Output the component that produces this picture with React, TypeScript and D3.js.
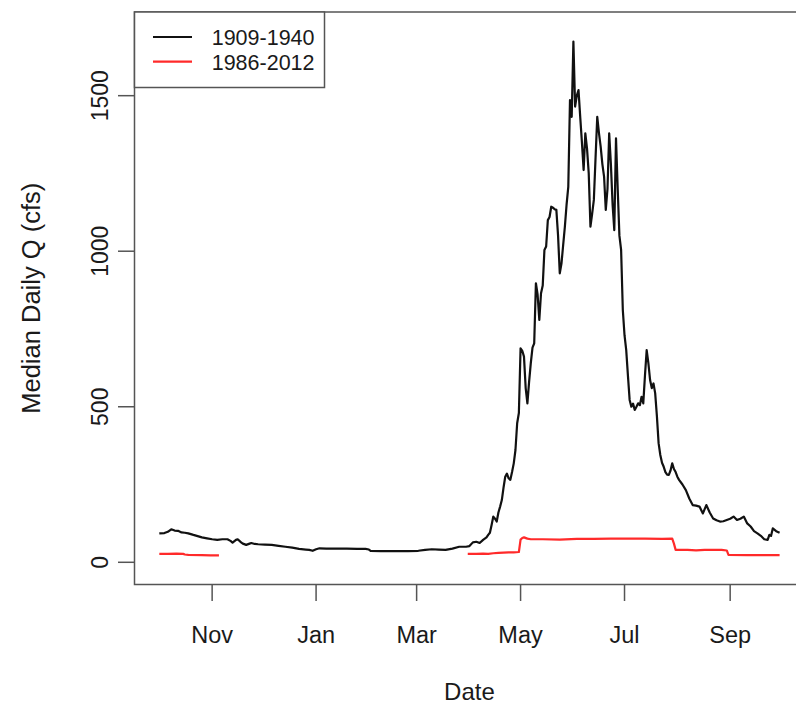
import React, { useEffect, useRef } from "react";
import * as d3 from "d3";

// day of water year (0 = Oct 1) and median daily flow, cfs
const histDay = [
  0, 3, 5, 7, 9, 11, 13, 15, 17, 20, 22, 25, 28, 31, 34, 37, 40, 42, 43, 45, 46, 48, 49, 51, 53, 54, 56, 58,
  62, 66, 70, 74, 78, 82, 86, 88, 90, 92, 94, 98, 102, 110, 116, 121, 123, 124, 130, 136, 141, 146, 152, 156,
  160, 164, 168, 172, 176, 180, 182, 184, 186, 188, 190, 192, 193, 194, 195, 196, 197, 198, 199, 200, 201, 202,
  203, 204, 205, 206, 207, 208, 209, 210, 211, 212, 213, 214, 215, 216, 217, 218, 219, 220, 221, 222, 223, 224,
  225, 226, 227, 228, 229, 230, 231, 232, 233, 234, 235, 236, 237, 238, 239, 240, 241, 242, 243, 244, 245, 246,
  247, 248, 249, 250, 251, 252, 253, 254, 255, 256, 257, 258, 259, 260, 261, 262, 263, 264, 265, 266, 267, 268,
  269, 270, 271, 272, 273, 274, 275, 276, 277, 278, 279, 280, 281, 282, 283, 284, 285, 286, 287, 288, 289, 290,
  291, 292, 293, 294, 295, 296, 297, 298, 299, 300, 301, 302, 303, 304, 305, 307, 309, 311, 313, 315, 317, 319,
  321, 323, 325, 327, 329, 331, 333, 335, 337, 339, 341, 343, 345, 347, 349, 351, 353, 355, 357, 358, 359, 360,
  362, 364,
];
const histQ = [
  93, 94, 98, 106, 102, 101, 96, 95, 93, 88, 85, 80, 77, 74, 72, 74, 74, 68, 63, 72, 74, 64, 60, 56, 60, 62, 59, 58,
  57, 56, 53, 50, 47, 43, 41, 40, 37, 42, 45, 44, 44, 44, 43, 43, 41, 37, 36, 36, 36, 36, 37, 40,
  42, 41, 40, 44, 50, 50, 52, 64, 66, 62, 72, 80, 88, 95, 120, 147, 140, 131, 160, 179, 200, 240,
  275, 285, 270, 265, 290, 318, 361, 447, 480, 688, 680, 661, 560, 511, 580, 640, 690, 704, 897, 860, 779, 865,
  890, 1004, 1015, 1100, 1110, 1143, 1140, 1135, 1133, 1050, 929, 960, 1020, 1079, 1150, 1207, 1486, 1432, 1674, 1465, 1500, 1518,
  1432, 1350, 1261, 1379, 1330, 1250, 1079, 1120, 1165, 1300, 1432, 1380, 1336, 1280, 1240, 1133, 1200, 1379, 1280, 1150, 1068, 1363,
  1200, 1050, 1004, 811, 730, 682, 600, 522, 500, 510, 490, 500, 511, 505, 532, 511, 600, 682, 640, 586, 560, 575,
  543, 470, 383, 345, 320, 307, 290, 282, 281, 295, 318, 300, 290, 275, 265, 250, 232, 205, 184, 182, 179, 157,
  184, 160, 141, 135, 131, 132, 136, 140, 147, 136, 140, 147, 125, 115, 100, 93, 85, 74, 72, 88, 85, 109,
  100, 95,
];

const recentDay = [
  0, 5, 10, 14, 15, 17, 25, 30, 35, 100,
  181, 186, 190, 193, 196, 199, 202, 205, 208, 211, 212, 213, 214, 216, 218, 225, 235, 245, 255, 265, 275, 285,
  295, 301, 302, 303, 310, 315, 320, 330, 333, 334, 345, 355, 364,
];
const recentQ = [
  27, 27, 28, 27, 25, 24, 23, 22, 22, null,
  27, 27, 28, 27, 29, 30, 31, 32, 32, 33, 73, 78, 80, 76, 74, 74, 73, 75, 75, 76, 76, 76,
  75, 76, 60, 40, 40, 38, 40, 40, 38, 24, 23, 23, 23,
];

const yTicks = [0, 500, 1000, 1500];
// tick months as [year, monthIndex]: Nov, Jan, Mar, May, Jul, Sep
const monthTicks = [
  [2001, 10],
  [2002, 0],
  [2002, 2],
  [2002, 4],
  [2002, 6],
  [2002, 8],
];
const seriesNames = ["1909-1940", "1986-2012"];
const seriesColors = ["#111111", "#ff2a2a"];

const W = 796;
const H = 707;
const FONT = "'Liberation Sans', Arial, sans-serif";
const TXT = "#1a1a1a";

export default function App() {
  const ref = useRef<SVGSVGElement>(null);

  useEffect(() => {
    const svg = d3.select(ref.current);
    svg.selectAll("*").remove();

    const start = Date.UTC(2001, 9, 1);
    const dayMs = 864e5;
    const toDate = (d: number) => new Date(start + d * dayMs);

    const x = d3
      .scaleUtc()
      .domain([toDate(-14.56), toDate(378.56)])
      .range([134.5, 804.4]);
    const y = d3.scaleLinear().domain([-71.4, 1769]).range([584.5, 12]);

    const line = d3
      .line<[number, number | null]>()
      .defined((d) => d[1] != null)
      .x((d) => x(toDate(d[0])))
      .y((d) => y(d[1] as number));

    const hist = histDay.map((d, i) => [d, histQ[i]] as [number, number | null]);
    const recent = recentDay.map((d, i) => [d, recentQ[i]] as [number, number | null]);

    svg
      .append("path")
      .attr("d", line(hist))
      .attr("fill", "none")
      .attr("stroke", seriesColors[0])
      .attr("stroke-width", 2.2)
      .attr("stroke-linejoin", "round");

    svg
      .append("path")
      .attr("d", line(recent))
      .attr("fill", "none")
      .attr("stroke", seriesColors[1])
      .attr("stroke-width", 2.2)
      .attr("stroke-linejoin", "round");

    // plot box
    const axisCol = "#555";
    svg
      .append("path")
      .attr("d", `M${x.range()[1]},12H134.5V584.5H${x.range()[1]}`)
      .attr("fill", "none")
      .attr("stroke", axisCol)
      .attr("stroke-width", 1.5);

    // y axis
    const gy = svg.append("g");
    yTicks.forEach((t) => {
      gy.append("line")
        .attr("x1", 118)
        .attr("x2", 134.5)
        .attr("y1", y(t))
        .attr("y2", y(t))
        .attr("stroke", axisCol)
        .attr("stroke-width", 1.5);
      gy.append("text")
        .attr("transform", `translate(108,${y(t)}) rotate(-90)`)
        .attr("text-anchor", "middle")
        .attr("font-family", FONT)
        .attr("font-size", 23)
        .attr("fill", TXT)
        .text(t);
    });

    // x axis
    const gx = svg.append("g");
    monthTicks.forEach(([yr, m]) => {
      const dt = new Date(Date.UTC(yr, m, 1));
      const px = x(dt);
      gx.append("line")
        .attr("x1", px)
        .attr("x2", px)
        .attr("y1", 584.5)
        .attr("y2", 601)
        .attr("stroke", axisCol)
        .attr("stroke-width", 1.5);
      gx.append("text")
        .attr("x", px)
        .attr("y", 643)
        .attr("text-anchor", "middle")
        .attr("font-family", FONT)
        .attr("font-size", 23.5)
        .attr("fill", TXT)
        .text(d3.utcFormat("%b")(dt));
    });

    // titles
    svg
      .append("text")
      .attr("x", (134.5 + 804.4) / 2)
      .attr("y", 700)
      .attr("text-anchor", "middle")
      .attr("font-family", FONT)
      .attr("font-size", 24)
      .attr("fill", TXT)
      .text("Date");
    svg
      .append("text")
      .attr("transform", `translate(40,${(12 + 584.5) / 2}) rotate(-90)`)
      .attr("text-anchor", "middle")
      .attr("font-family", FONT)
      .attr("font-size", 25.5)
      .attr("fill", TXT)
      .text("Median Daily Q (cfs)");

    // legend
    const lg = svg.append("g");
    lg.append("rect")
      .attr("x", 134.5)
      .attr("y", 12)
      .attr("width", 190)
      .attr("height", 75.5)
      .attr("fill", "white")
      .attr("stroke", axisCol)
      .attr("stroke-width", 1.5);
    seriesNames.forEach((name, i) => {
      const ly = 37 + i * 24.7;
      lg.append("line")
        .attr("x1", 153)
        .attr("x2", 192)
        .attr("y1", ly)
        .attr("y2", ly)
        .attr("stroke", seriesColors[i])
        .attr("stroke-width", 2.2);
      lg.append("text")
        .attr("x", 211.7)
        .attr("y", ly + 7.8)
        .attr("font-family", FONT)
        .attr("font-size", 21.5)
        .attr("fill", TXT)
        .text(name);
    });
  }, []);

  return (
    <svg
      ref={ref}
      width={W}
      height={H}
      style={{ position: "absolute", left: 0, top: 0, background: "white" }}
    />
  );
}
